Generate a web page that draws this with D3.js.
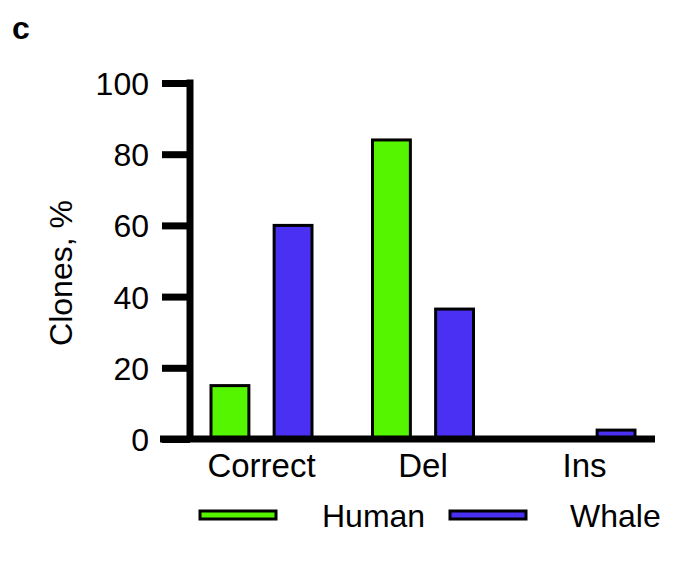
<!DOCTYPE html>
<html lang="en">
<head>
  <meta charset="UTF-8">
  <title>Clones</title>
  <style>
    body { margin: 0; background: #fff; }
    text { font-family: "Liberation Sans", Arial, sans-serif; fill: #000; }
  </style>
</head>
<body>
  <svg width="673" height="567"></svg>
  <script src="https://d3js.org/d3.v7.min.js"></script>
  <script>
// Data
const categories = ['Correct', 'Del', 'Ins'];
const series = ['Human', 'Whale'];
const human = [15, 84, 0];
const whale = [60, 36.5, 2.5];
const yTicks = [0, 20, 40, 60, 80, 100];
const colors = ['#55f500', '#4a30f2'];

const svg = d3.select('svg');

// Scales
const y = d3.scaleLinear().domain([0, 100]).range([439, 83]);
const x = d3.scalePoint().domain(categories).range([261.5, 584.5]);
const xInner = d3.scaleBand().domain(series).range([-50.5, 50.5]).paddingInner(0.4);

// Panel letter
svg.append('text')
  .attr('x', 12).attr('y', 39)
  .style('font-size', '32px').style('font-weight', 'bold')
  .text('c');

// Bars
const values = [human, whale];
series.forEach((s, si) => {
  svg.append('g').selectAll('rect')
    .data(categories.map((c, i) => ({ c, v: values[si][i] })))
    .enter().append('rect')
    .attr('x', d => x(d.c) + xInner(s))
    .attr('y', d => y(d.v))
    .attr('width', xInner.bandwidth())
    .attr('height', d => y(0) - y(d.v))
    .attr('fill', colors[si])
    .attr('stroke', '#000')
    .attr('stroke-width', 3);
});

// Y axis
const yAxis = svg.append('g')
  .attr('transform', 'translate(190,0)')
  .call(d3.axisLeft(y).tickValues(yTicks).tickSize(28).tickPadding(13));
yAxis.select('.domain').attr('stroke-width', 7).attr('d', `M0,${y(100) - 3.5}V${y(0)}`);
yAxis.selectAll('.tick line').attr('stroke-width', 7);
yAxis.selectAll('.tick text')
  .style('font-size', '32px')
  .attr('font-family', null)
  .attr('dy', '0.36em');

// X axis
svg.append('line')
  .attr('x1', 160).attr('x2', 655)
  .attr('y1', y(0)).attr('y2', y(0))
  .attr('stroke', '#000').attr('stroke-width', 7);

svg.append('g').selectAll('text')
  .data(categories)
  .enter().append('text')
  .attr('x', d => x(d))
  .attr('y', 477)
  .attr('text-anchor', 'middle')
  .style('font-size', '33px')
  .text(d => d);

// Y label
svg.append('text')
  .attr('transform', 'translate(72,273) rotate(-90)')
  .attr('text-anchor', 'middle')
  .style('font-size', '32px')
  .text('Clones, %');

// Legend
const legendX = [[200, 322], [450, 570]];
series.forEach((s, i) => {
  svg.append('rect')
    .attr('x', legendX[i][0]).attr('y', 511)
    .attr('width', 76).attr('height', 8)
    .attr('fill', colors[i])
    .attr('stroke', '#000').attr('stroke-width', 3);
  svg.append('text')
    .attr('x', legendX[i][1]).attr('y', 527)
    .style('font-size', '32px')
    .text(s);
});
  </script>
</body>
</html>
